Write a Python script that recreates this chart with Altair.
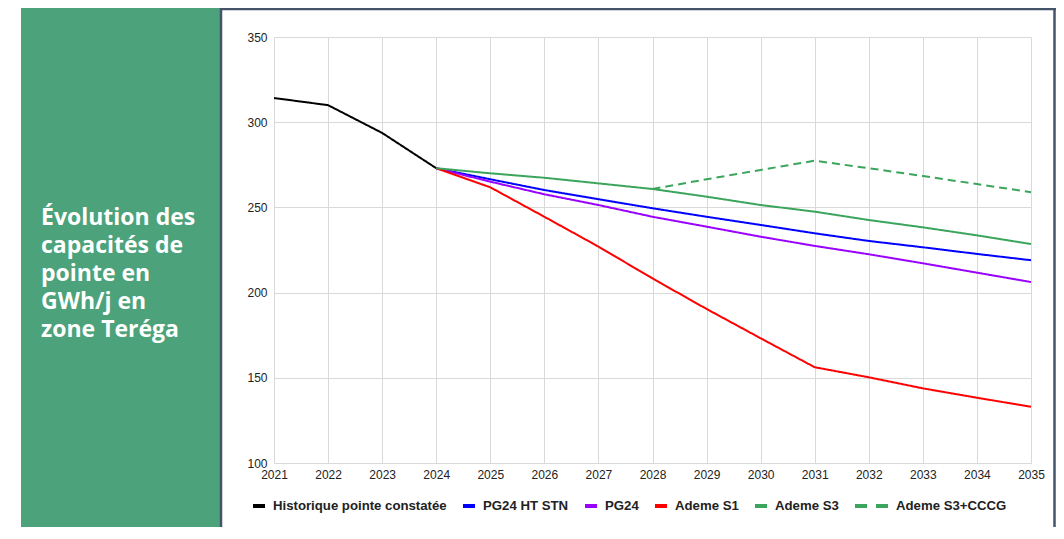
import altair as alt
import pandas as pd

# ---- data ----
series = ["Historique pointe constatée", "PG24 HT STN", "PG24", "Ademe S1", "Ademe S3", "Ademe S3+CCCG"]
colors = ["#000000", "#0000FF", "#9900FF", "#FF0000", "#3BA55C", "#3BA55C"]
dashes = [[1, 0], [1, 0], [1, 0], [1, 0], [1, 0], [8, 5]]

years_hist = [2021, 2022, 2023, 2024]
hist = [314.2, 310.0, 293.7, 273.0]

years_proj = [2024, 2025, 2026, 2027, 2028, 2029, 2030, 2031, 2032, 2033, 2034, 2035]
pg24_ht_stn = [273.0, 266.5, 260.2, 254.8, 249.5, 244.5, 239.7, 234.8, 230.3, 226.6, 222.7, 219.0]
pg24 = [273.0, 265.1, 257.7, 251.4, 244.5, 238.7, 232.8, 227.4, 222.5, 217.2, 211.7, 206.2]
ademe_s1 = [273.0, 261.8, 244.5, 227.0, 208.3, 190.4, 173.2, 156.2, 150.3, 143.8, 138.3, 133.0]
ademe_s3 = [273.0, 270.0, 267.4, 264.1, 260.8, 256.3, 251.4, 247.5, 242.6, 238.3, 233.6, 228.5]

years_cccg = [2028, 2029, 2030, 2031, 2032, 2033, 2034, 2035]
ademe_s3_cccg = [260.8, 266.5, 272.0, 277.4, 273.0, 268.4, 263.7, 258.9]

x_ticks = list(range(2021, 2036))
y_ticks = [100, 150, 200, 250, 300, 350]

title_lines = ["Évolution des", "capacités de", "pointe en", "GWh/j en", "zone Teréga"]

rows = []
for y, v in zip(years_hist, hist):
    rows.append({"year": y, "value": v, "series": series[0]})
for name, vals in [(series[1], pg24_ht_stn), (series[2], pg24), (series[3], ademe_s1), (series[4], ademe_s3)]:
    for y, v in zip(years_proj, vals):
        rows.append({"year": y, "value": v, "series": name})
for y, v in zip(years_cccg, ademe_s3_cccg):
    rows.append({"year": y, "value": v, "series": series[5]})
df = pd.DataFrame(rows)

# line scales keyed on the data-driven (sorted) domain so that they never merge with the legend
sorted_series = sorted(series)
line_colors = [colors[series.index(s)] for s in sorted_series]
line_dashes = [dashes[series.index(s)] for s in sorted_series]

W, H = 757, 426
PAD_L, PAD_T, PAD_R = 266, 29, 25
TOTAL_H = 519
PAD_B = TOTAL_H - PAD_T - H
BOTTOM = H + PAD_B

one = alt.Data(values=[{"k": 1}])

panel = alt.Chart(one).mark_rect(color="#4CA27A").encode(
    x=alt.value(-253), x2=alt.value(-54), y=alt.value(-29), y2=alt.value(BOTTOM)
)

frame_col = "#44546A"
frame_left = alt.Chart(one).mark_rule(color=frame_col, strokeWidth=2.5).encode(
    x=alt.value(-53), y=alt.value(-29), y2=alt.value(BOTTOM)
)
frame_top = alt.Chart(one).mark_rule(color=frame_col, strokeWidth=2.5).encode(
    x=alt.value(-54), x2=alt.value(782), y=alt.value(-28)
)
frame_right = alt.Chart(one).mark_rule(color=frame_col, strokeWidth=2.5).encode(
    x=alt.value(780.5), y=alt.value(-29), y2=alt.value(BOTTOM)
)

title = alt.Chart(one).mark_text(
    color="white", font="Open Sans", fontSize=23, fontWeight="bold",
    align="left", baseline="alphabetic", lineHeight=27.9
).encode(x=alt.value(-233), y=alt.value(188), text=alt.value(title_lines))

x_enc = alt.X("year:Q", scale=alt.Scale(domain=[2021, 2035], nice=False, zero=False),
              axis=alt.Axis(values=x_ticks, format="d", title=None, labelFlush=False,
                            labelOverlap=False, labelPadding=6))
y_enc = alt.Y("value:Q", scale=alt.Scale(domain=[100, 350], nice=False, zero=False),
              axis=alt.Axis(values=y_ticks, title=None, labelFlush=False, labelPadding=7))

lines = alt.Chart(df).mark_line(strokeWidth=2).encode(
    x=x_enc, y=y_enc,
    stroke=alt.Stroke("series:N", scale=alt.Scale(range=line_colors), legend=None),
    strokeDash=alt.StrokeDash("series:N", scale=alt.Scale(range=line_dashes), legend=None),
)

leg = alt.Legend(
    orient="none", legendX=-23, legendY=461, direction="horizontal", title=None,
    symbolType="stroke", symbolStrokeWidth=4, symbolDash=[12, 9], symbolOpacity=1,
    labelFont="Arial", labelFontSize=13.2, labelFontWeight="bold", labelColor="#222222",
    labelOffset=6, labelLimit=400, columnPadding=14, clipHeight=16,
)

legend_layer = alt.Chart(df).mark_point(filled=False, opacity=1).encode(
    color=alt.Color("series:N", scale=alt.Scale(domain=series, range=colors), legend=leg),
    size=alt.Size("series:N", scale=alt.Scale(type="ordinal", domain=series,
                                              range=[144, 144, 144, 144, 144, 1089]), legend=leg),
).transform_filter("false")

chart = alt.layer(panel, frame_left, frame_top, frame_right, title, lines, legend_layer).properties(
    width=W, height=H,
    padding={"left": PAD_L, "top": PAD_T, "right": PAD_R, "bottom": PAD_B},
    autosize=alt.AutoSizeParams(type="none"),
).configure_view(strokeWidth=0).configure_axis(
    grid=True, gridColor="#D9D9D9", gridWidth=1, domain=False, ticks=False,
    labelFont="Arial", labelFontSize=12, labelColor="#222222",
)

chart.save("out.html", embed_options={"renderer": "svg", "actions": False})
